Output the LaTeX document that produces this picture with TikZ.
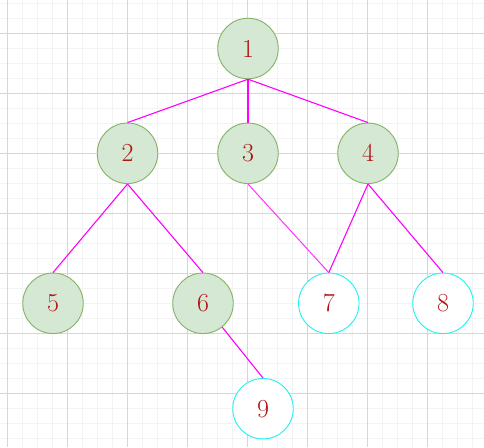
\documentclass[tikz,border=0pt]{standalone}
\usepackage{fontspec}
\definecolor{gfill}{HTML}{D5E8D4}
\definecolor{gdraw}{HTML}{82B366}
\definecolor{cyanline}{HTML}{22F0F0}
\definecolor{edgec}{HTML}{FF00FF}
\definecolor{edgelight}{HTML}{FF33FF}
\definecolor{txt}{HTML}{B01515}
\definecolor{gmajor}{HTML}{D6D6D6}
\definecolor{gminor}{HTML}{F3F3F3}
\begin{document}
\begin{tikzpicture}[x=1pt,y=-1pt,
  greennode/.style={circle,draw=gdraw,fill=gfill,line width=0.9pt,minimum size=60.5pt,inner sep=0pt,text=txt,font=\fontsize{26}{30}\selectfont},
  cyannode/.style={circle,draw=cyanline,fill=white,line width=0.9pt,minimum size=60.5pt,inner sep=0pt,text=txt,font=\fontsize{26}{30}\selectfont},
  edge/.style={draw=edgec,line width=1.1pt},
  edgeL/.style={draw=edgelight,line width=1pt}]
\useasboundingbox (0,0) rectangle (484,447);
\fill[white] (0,0) rectangle (484,447);
% minor grid
\foreach \x in {-7.7,7.3,...,484} \draw[gminor,line width=0.8pt] (\x,0) -- (\x,447);
\foreach \y in {3.3,18.3,...,447} \draw[gminor,line width=0.8pt] (0,\y) -- (484,\y);
% major grid
\foreach \x in {7.3,67.3,...,484} \draw[gmajor,line width=0.8pt] (\x,0) -- (\x,447);
\foreach \y in {33.3,93.3,...,447} \draw[gmajor,line width=0.8pt] (0,\y) -- (484,\y);
% nodes
\node[greennode] (n1) at (248,48.5) {1};
\node[greennode] (n2) at (127.5,153.3) {2};
\node[greennode] (n3) at (248,153.3) {3};
\node[greennode] (n4) at (368,153.3) {4};
\node[greennode] (n5) at (53,303.3) {5};
\node[greennode] (n6) at (203,303.3) {6};
\node[cyannode] (n7) at (328.8,303.3) {7};
\node[cyannode] (n8) at (443,303.3) {8};
\node[cyannode] (n9) at (263,408.7) {9};
% edges
\draw[edge] (n1.south) -- (n2.north);
\draw[edge,line width=1.3pt] (n1.south) -- (n3.north);
\draw[edge] (n1.south) -- (n4.north);
\draw[edge] (n2.south) -- (n5.north);
\draw[edge] (n2.south) -- (n6.north);
\draw[edgeL] (n3.south) -- (n7.north);
\draw[edge] (n4.south) -- (n7.north);
\draw[edge] (n4.south) -- (n8.north);
\draw[edge] (n6) -- (n9.north);
\end{tikzpicture}
\end{document}
